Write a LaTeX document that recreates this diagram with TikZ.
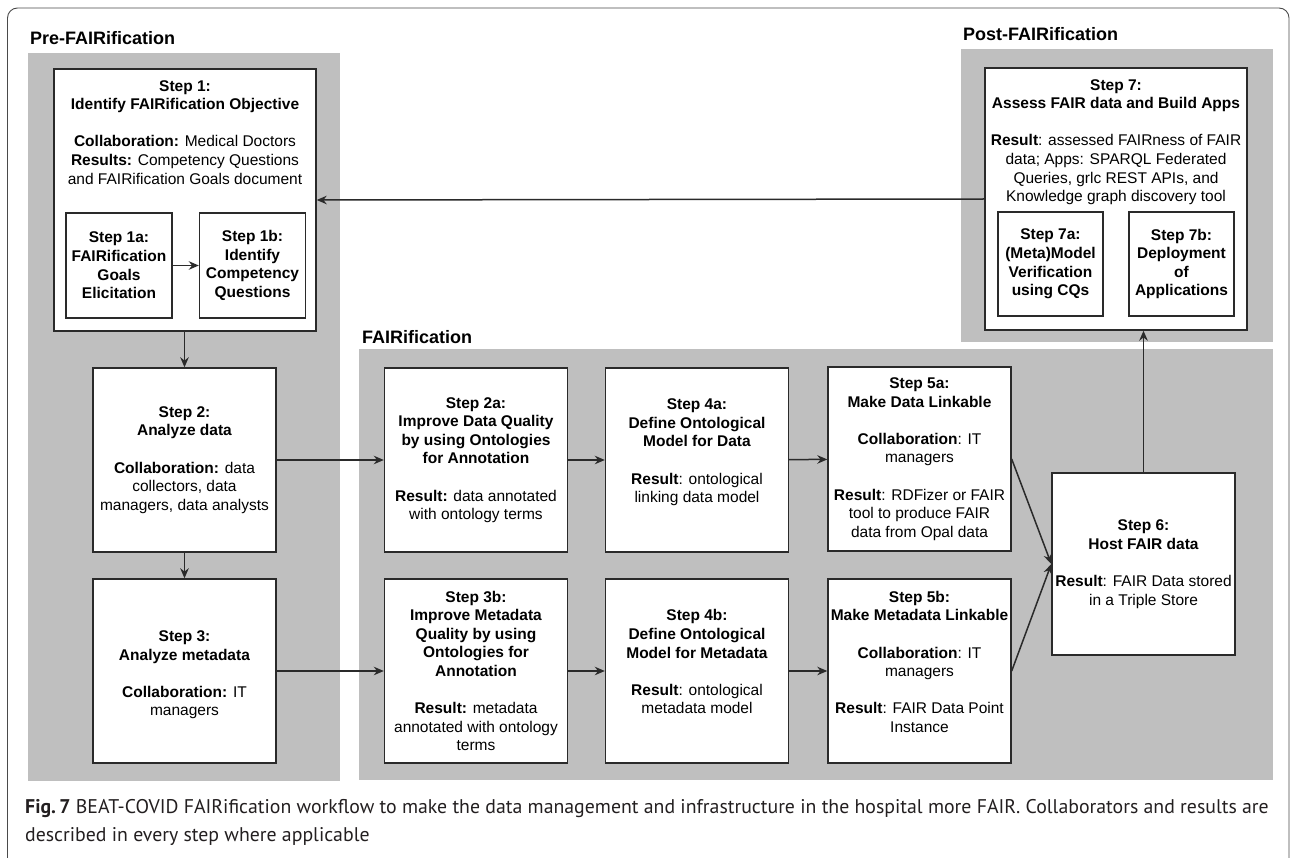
\documentclass[tikz,border=0pt]{standalone}
\usepackage{fontspec}
\setmainfont{Liberation Sans}
\newfontfamily\capfont{PT Sans}
\usetikzlibrary{arrows.meta,positioning,calc}

\definecolor{panelgray}{HTML}{BFBFBF}
\definecolor{boxline}{HTML}{2A2A2A}
\definecolor{framegray}{HTML}{4A4A4A}
\definecolor{captext}{HTML}{231F20}
\newcommand{\stepfont}{\fontsize{15.5}{18.6}\selectfont}

\begin{document}
\begin{tikzpicture}[x=1pt,y=-1pt,
    stepbox/.style={draw=boxline, fill=white, line width=1.4pt, align=center, inner sep=0pt, font=\stepfont},
    stepsize/.style={minimum width=183pt, minimum height=184pt},
    subbox/.style={stepbox, minimum width=106pt, minimum height=105pt, font=\stepfont\bfseries},
    bigtext/.style={anchor=north, align=center, inner sep=0pt, font=\stepfont},
    grouptitle/.style={anchor=base west, inner sep=0pt, font=\fontsize{18}{21}\selectfont\bfseries},
    captxt/.style={anchor=base west, inner sep=0pt, text=captext, font=\capfont\fontsize{19.8}{24}\selectfont},
    flow/.style={draw=boxline, line width=1.5pt, -{Stealth[length=10pt,width=8.5pt]}}]
    \useasboundingbox (0,0) rectangle (1292,858);
    \draw[framegray, line width=0.9pt, rounded corners=10pt] (7.5,8) rectangle (1289,880);

    % gray group panels
    \fill[panelgray] (28,53) rectangle (340,781);
    \fill[panelgray] (359,349) rectangle (1273,780);
    \fill[panelgray] (961,49) rectangle (1273,342);
    \node[grouptitle] (tpre) at (30,45) {Pre-FAIRification};
    \node[grouptitle] (tfair) at (362,343) {FAIRification};
    \node[grouptitle] (tpost) at (963,41) {Post-FAIRification};

    % step 1 with its two sub steps
    \node[stepbox, minimum width=262pt, minimum height=262pt] (s1) at (185,200) {};
    \node[bigtext] (s1txt) at (185,80) {\textbf{Step 1:}\\\textbf{Identify FAIRification Objective}\\[18.6pt]
        \textbf{Collaboration:} Medical Doctors\\\textbf{Results:} Competency Questions\\and FAIRification Goals document};
    \node[subbox] (s1a) at (119,265.5) {Step 1a:\\FAIRification\\Goals\\Elicitation};
    \node[subbox] (s1b) at (252.5,265.5) {Step 1b:\\Identify\\Competency\\Questions};

    \node[stepbox, stepsize] (s2) at (184.5,460) {\textbf{Step 2:}\\\textbf{Analyze data}\\[18.6pt]
        \textbf{Collaboration:} data\\collectors, data\\managers, data analysts};
    \node[stepbox, stepsize] (s3) at (184.5,671) {\mbox{}\\\textbf{Step 3:}\\\textbf{Analyze metadata}\\[18.6pt]
        \textbf{Collaboration:} IT\\managers};

    % FAIRification steps
    \node[stepbox, stepsize] (s2a) at (476,460) {\textbf{Step 2a:}\\\textbf{Improve Data Quality}\\\textbf{by using Ontologies}\\\textbf{for Annotation}\\[18.6pt]
        \textbf{Result:} data annotated\\with ontology terms};
    \node[stepbox, stepsize] (s3b) at (476,671) {\textbf{Step 3b:}\\\textbf{Improve Metadata}\\\textbf{Quality by using}\\\textbf{Ontologies for}\\\textbf{Annotation}\\[18.6pt]
        \textbf{Result:} metadata\\annotated with ontology\\terms};
    \node[stepbox, stepsize] (s4a) at (697,460) {\textbf{Step 4a:}\\\textbf{Define Ontological}\\\textbf{Model for Data}\\[18.6pt]
        \textbf{Result}: ontological\\linking data model\\\mbox{}};
    \node[stepbox, stepsize] (s4b) at (697,671) {\textbf{Step 4b:}\\\textbf{Define Ontological}\\\textbf{Model for Metadata}\\[18.6pt]
        \textbf{Result}: ontological\\metadata model\\\mbox{}};
    \node[stepbox, stepsize] (s5a) at (919.5,459) {\textbf{Step 5a:}\\\textbf{Make Data Linkable}\\[18.6pt]
        \textbf{Collaboration}: IT\\managers\\[18.6pt]
        \textbf{Result}: RDFizer or FAIR\\tool to produce FAIR\\data from Opal data};
    \node[stepbox, stepsize] (s5b) at (919.5,671) {\textbf{Step 5b:}\\\textbf{Make Metadata Linkable}\\[18.6pt]
        \textbf{Collaboration}: IT\\managers\\[18.6pt]
        \textbf{Result}: FAIR Data Point\\Instance\\\mbox{}};
    \node[stepbox, minimum width=183pt, minimum height=182pt] (s6) at (1143.5,564) {\textbf{Step 6:}\\\textbf{Host FAIR data}\\[18.6pt]
        \textbf{Result}: FAIR Data stored\\in a Triple Store};

    % step 7 with its two sub steps
    \node[stepbox, minimum width=262pt, minimum height=262pt] (s7) at (1116,199) {};
    \node[bigtext] (s7txt) at (1116,79) {\textbf{Step 7:}\\\textbf{Assess FAIR data and Build Apps}\\[18.6pt]
        \textbf{Result}: assessed FAIRness of FAIR\\data; Apps: SPARQL Federated\\Queries, grlc REST APIs, and\\Knowledge graph discovery tool};
    \node[subbox, minimum width=105pt, minimum height=104pt] (s7a) at (1050.5,264) {Step 7a:\\(Meta)Model\\Verification\\using CQs};
    \node[subbox, minimum width=105pt, minimum height=104pt] (s7b) at (1181.5,264) {Step 7b:\\Deployment\\of\\Applications};

    % connectors
    \draw[flow] (s1a) -- (s1b);
    \draw[flow] (s2.north |- s1.south) -- (s2.north);
    \draw[flow] (s2) -- (s3);
    \draw[flow] (s2) -- (s2a);
    \draw[flow] (s2a) -- (s4a);
    \draw[flow] (s4a) -- (s5a);
    \draw[flow] (s3) -- (s3b);
    \draw[flow] (s3b) -- (s4b);
    \draw[flow] (s4b) -- (s5b);
    \draw[flow] (s5a.east) -- (s6.west);
    \draw[flow] (s5b.east) -- (s6.west);
    \draw[flow] (s6.north) -- (s6.north |- s7.south);
    \draw[flow] (s7.west) -- (s1.east);

    % caption
    \node[captxt] (cap1) at (25,813) {\textbf{Fig.\,7} BEAT-COVID FAIRification workflow to make the data management and infrastructure in the hospital more FAIR. Collaborators and results are};
    \node[captxt] (cap2) at (25,841) {described in every step where applicable};
\end{tikzpicture}
\end{document}
